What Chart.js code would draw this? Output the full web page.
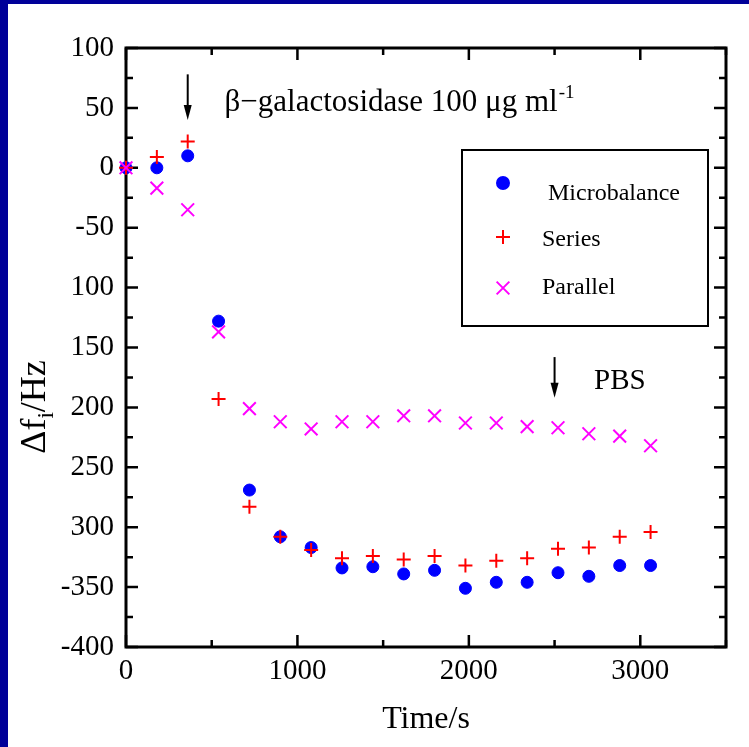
<!DOCTYPE html>
<html>
<head>
<meta charset="utf-8">
<script src="https://cdn.jsdelivr.net/npm/chart.js@4.4.0/dist/chart.umd.min.js"></script>
<style>
  html, body { margin: 0; padding: 0; background: #fff; }
  #wrap { width: 749px; height: 747px; }
</style>
</head>
<body>
<div id="wrap"><canvas id="chart" width="749" height="747"></canvas></div>
<script>
const times = [0, 180, 360, 540, 720, 900, 1080, 1260, 1440, 1620, 1800, 1980, 2160, 2340, 2520, 2700, 2880, 3060]
const microbalance = [0, 0, 10, -128, -269, -308, -317, -334, -333, -339, -336, -351, -346, -346, -338, -341, -332, -332]
const series = [0, 9, 22, -193, -283, -308, -319, -326, -324, -327, -324, -332, -328, -326, -318, -317, -308, -304]
const parallel = [0, -17, -35, -137, -201, -212, -218, -212, -212, -207, -207, -213, -213, -216, -217, -222, -224, -232]

// tick labels as printed in the original (some minus signs are missing there)
const yTickValues = [100, 50, 0, -50, -100, -150, -200, -250, -300, -350, -400]
const yTickLabels = ['100', '50', '0', '-50', '100', '150', '200', '250', '300', '-350', '-400']
const xTickValues = [0, 1000, 2000, 3000]

const seriesNames = ['Microbalance', 'Series', 'Parallel']
const seriesColors = ['#0000ff', '#ff0000', '#ff00ff']

const SERIF = '"Liberation Serif", "Times New Roman", serif'
const NAVY = '#000099'

const toPoints = vals => vals.map((v, i) => ({ x: times[i], y: v }))

const markerStyles = [
  { pointStyle: 'circle', radius: 6, borderWidth: 1 },
  { pointStyle: 'cross', radius: 7, borderWidth: 2 },
  { pointStyle: 'crossRot', radius: 9, borderWidth: 2 }
]

// frame, inward ticks, annotations, legend, axis titles
const decorPlugin = {
  id: 'decor',
  beforeDraw(chart) {
    const { ctx, width, height } = chart
    ctx.save()
    ctx.fillStyle = '#fff'
    ctx.fillRect(0, 0, width, height)
    ctx.fillStyle = NAVY
    ctx.fillRect(0, 0, 8, height)
    ctx.fillRect(0, 0, width, 4)
    ctx.restore()
  },
  beforeDatasetsDraw(chart) {
    const { ctx, chartArea: a, scales } = chart
    const xs = scales.x, ys = scales.y
    ctx.save()
    ctx.strokeStyle = '#000'
    ctx.lineWidth = 2.5
    ctx.beginPath()
    for (let v = 0; v <= 3500; v += 500) {
      const px = xs.getPixelForValue(v)
      const len = v % 1000 === 0 ? 12 : 7
      ctx.moveTo(px, a.bottom); ctx.lineTo(px, a.bottom - len)
      ctx.moveTo(px, a.top); ctx.lineTo(px, a.top + len)
    }
    for (let v = -400; v <= 100; v += 25) {
      const py = ys.getPixelForValue(v)
      const len = v % 50 === 0 ? 12 : 7
      ctx.moveTo(a.left, py); ctx.lineTo(a.left + len, py)
      ctx.moveTo(a.right, py); ctx.lineTo(a.right - len, py)
    }
    ctx.stroke()
    ctx.lineWidth = 3
    ctx.strokeRect(a.left, a.top, a.right - a.left, a.bottom - a.top)
    ctx.restore()
  },
  afterDraw(chart) {
    const { ctx, chartArea: a, scales } = chart
    const xs = scales.x, ys = scales.y
    ctx.save()
    ctx.fillStyle = '#000'
    ctx.strokeStyle = '#000'

    const arrow = (t, y0, y1) => {
      const px = xs.getPixelForValue(t)
      ctx.lineWidth = 2
      ctx.beginPath()
      ctx.moveTo(px, y0); ctx.lineTo(px, y1 - 10)
      ctx.stroke()
      ctx.beginPath()
      ctx.moveTo(px - 4, y1 - 15); ctx.lineTo(px + 4, y1 - 15); ctx.lineTo(px, y1)
      ctx.closePath()
      ctx.fill()
    }
    arrow(360, ys.getPixelForValue(78), ys.getPixelForValue(40))
    arrow(2500, ys.getPixelForValue(-158), ys.getPixelForValue(-192))

    ctx.font = '31px ' + SERIF
    ctx.textBaseline = 'alphabetic'
    ctx.textAlign = 'left'
    let tx = xs.getPixelForValue(575)
    const ty = ys.getPixelForValue(47)
    const main = '\u03b2\u2212galactosidase 100 \u03bcg ml'
    ctx.fillText(main, tx, ty)
    tx += ctx.measureText(main).width
    ctx.font = '19px ' + SERIF
    ctx.fillText('-1', tx + 1, ty - 13)

    ctx.font = '29px ' + SERIF
    ctx.fillText('PBS', xs.getPixelForValue(2730), ys.getPixelForValue(-185))

    // legend box
    const bx = 462, by = 150, bw = 246, bh = 176
    ctx.lineWidth = 2
    ctx.strokeRect(bx, by, bw, bh)
    const markY = [183, 237, 288]
    const textY = [194, 240, 288]
    const textX = [548, 542, 542]
    ctx.font = '24px ' + SERIF
    ctx.textBaseline = 'middle'
    seriesNames.forEach((name, i) => {
      const m = markerStyles[i]
      ctx.fillStyle = seriesColors[i]
      ctx.strokeStyle = seriesColors[i]
      Chart.helpers.drawPoint(ctx, {
        pointStyle: m.pointStyle, radius: m.radius, borderWidth: m.borderWidth, rotation: 0
      }, 503, markY[i])
      ctx.fillStyle = '#000'
      ctx.fillText(name, textX[i], textY[i])
    })

    // axis titles
    ctx.fillStyle = '#000'
    ctx.font = '32px ' + SERIF
    ctx.textAlign = 'center'
    ctx.textBaseline = 'alphabetic'
    ctx.fillText('Time/s', (a.left + a.right) / 2, 728)

    ctx.translate(45, 407)
    ctx.rotate(-Math.PI / 2)
    ctx.textAlign = 'left'
    const p1 = '\u0394f', p2 = 'i', p3 = '/Hz'
    ctx.font = '36px ' + SERIF
    const w1 = ctx.measureText(p1).width
    const w3 = ctx.measureText(p3).width
    ctx.font = '23px ' + SERIF
    const w2 = ctx.measureText(p2).width
    let sx = -(w1 + w2 + w3) / 2
    ctx.font = '36px ' + SERIF
    ctx.fillText(p1, sx, 0); sx += w1
    ctx.font = '23px ' + SERIF
    ctx.fillText(p2, sx, 8); sx += w2
    ctx.font = '36px ' + SERIF
    ctx.fillText(p3, sx, 0)
    ctx.restore()
  }
}

const datasets = [microbalance, series, parallel].map((vals, i) => ({
  label: seriesNames[i],
  data: toPoints(vals),
  showLine: false,
  pointStyle: markerStyles[i].pointStyle,
  pointRadius: markerStyles[i].radius,
  pointHoverRadius: markerStyles[i].radius,
  pointBorderWidth: markerStyles[i].borderWidth,
  pointBackgroundColor: seriesColors[i],
  pointBorderColor: seriesColors[i],
  order: 3 - i,
  clip: false
}))

new Chart(document.getElementById('chart'), {
  type: 'scatter',
  data: { datasets },
  options: {
    responsive: false,
    animation: false,
    events: [],
    layout: { padding: { left: 8, top: 48, right: 23, bottom: 0 } },
    plugins: { legend: { display: false }, tooltip: { enabled: false } },
    scales: {
      x: {
        type: 'linear',
        min: 0,
        max: 3500,
        grid: { display: false, drawTicks: false },
        border: { display: false },
        afterFit: s => { s.height = 100 },
        ticks: {
          stepSize: 500,
          autoSkip: false,
          maxRotation: 0,
          padding: 7,
          color: '#000',
          font: { family: SERIF, size: 29 },
          callback: v => (xTickValues.includes(v) ? String(v) : '')
        }
      },
      y: {
        type: 'linear',
        min: -400,
        max: 100,
        grid: { display: false, drawTicks: false },
        border: { display: false },
        afterFit: s => { s.width = 118 },
        ticks: {
          stepSize: 50,
          autoSkip: false,
          padding: 12,
          color: '#000',
          font: { family: SERIF, size: 29 },
          callback: v => {
            const k = yTickValues.indexOf(v)
            return k >= 0 ? yTickLabels[k] : ''
          }
        }
      }
    }
  },
  plugins: [decorPlugin]
})
</script>
</body>
</html>
